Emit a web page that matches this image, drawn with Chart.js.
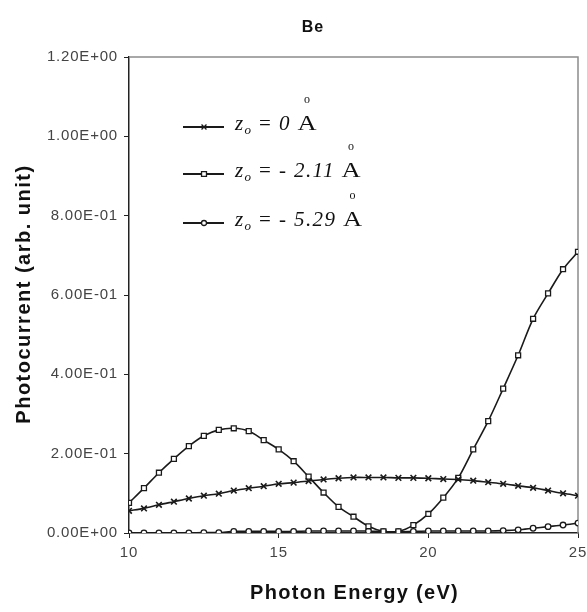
<!DOCTYPE html>
<html>
<head>
<meta charset="utf-8">
<script src="https://cdn.jsdelivr.net/npm/chart.js@4.4.1/dist/chart.umd.min.js"></script>
<style>
  html, body { margin: 0; padding: 0; background: #fff; }
  #wrap { width: 587px; height: 612px; }
</style>
</head>
<body>
<div id="wrap"><canvas id="grafica"></canvas></div>
<script>
// photon energy (eV)
const energia = [10, 10.5, 11, 11.5, 12, 12.5, 13, 13.5, 14, 14.5, 15, 15.5, 16, 16.5, 17, 17.5,
                 18, 18.5, 19, 19.5, 20, 20.5, 21, 21.5, 22, 22.5, 23, 23.5, 24, 24.5, 25]
// z0 = 0 A (crosses)
const z0 = [0.056, 0.062, 0.071, 0.079, 0.087, 0.094, 0.099, 0.107, 0.113, 0.118, 0.124, 0.127, 0.131, 0.135, 0.138, 0.140,
            0.140, 0.140, 0.139, 0.139, 0.138, 0.136, 0.135, 0.132, 0.128, 0.124, 0.119, 0.114, 0.107, 0.100, 0.094]
// z0 = -2.11 A (squares)
const z211 = [0.076, 0.113, 0.152, 0.187, 0.219, 0.245, 0.260, 0.264, 0.257, 0.234, 0.211, 0.181, 0.142, 0.102, 0.066, 0.041,
              0.017, 0.004, 0.004, 0.020, 0.048, 0.089, 0.139, 0.211, 0.282, 0.364, 0.448, 0.540, 0.604, 0.665, 0.709]
// z0 = -5.29 A (circles)
const z529 = [0.000, 0.000, 0.000, 0.000, 0.000, 0.001, 0.001, 0.004, 0.004, 0.004, 0.004, 0.004, 0.005, 0.005, 0.005, 0.005,
              0.005, 0.003, 0.003, 0.004, 0.005, 0.005, 0.005, 0.005, 0.005, 0.006, 0.008, 0.012, 0.016, 0.020, 0.025]

const leyenda = ['0', '- 2.11', '- 5.29']
const marcas = ['crossRot', 'rect', 'circle']

function pares(ys) {
    return energia.map((x, i) => ({ x: x, y: ys[i] }))
}

function expo(v) {
    if (Math.abs(v) < 1e-9) return '0.00E+00'
    const partes = v.toExponential(2).split('e')
    let e = Number(partes[1])
    const signo = e < 0 ? '-' : '+'
    e = Math.abs(e)
    return partes[0] + 'E' + signo + (e < 10 ? '0' + e : e)
}

// the picture is a bit wide, so the text gets some letter spacing
const espaciado = {
    id: 'espaciado',
    beforeDraw(chart) { chart.ctx.letterSpacing = '0.8px' },
    afterDraw(chart) { chart.ctx.letterSpacing = '0px' }
}

// gray frame on top/right, title and axis titles
const marco = {
    id: 'marco',
    beforeDatasetsDraw(chart) {
        const { ctx, chartArea: a } = chart
        ctx.save()
        ctx.strokeStyle = '#8c8c8c'
        ctx.lineWidth = 1.5
        ctx.beginPath()
        ctx.moveTo(a.left, a.top)
        ctx.lineTo(a.right, a.top)
        ctx.lineTo(a.right, a.bottom)
        ctx.stroke()

        ctx.fillStyle = '#111'
        ctx.textAlign = 'center'
        ctx.textBaseline = 'alphabetic'
        ctx.letterSpacing = '1px'
        ctx.font = 'bold 16px "Liberation Sans", Arial'
        ctx.fillText('Be', 313, 32)

        ctx.letterSpacing = '1.3px'
        ctx.font = 'bold 20px "Liberation Sans", Arial'
        ctx.fillText('Photon Energy (eV)', (a.left + a.right) / 2 + 1, 599)

        ctx.letterSpacing = '1.5px'
        ctx.save()
        ctx.translate(30, (a.top + a.bottom) / 2)
        ctx.rotate(-Math.PI / 2)
        ctx.fillText('Photocurrent (arb. unit)', 1, 0)
        ctx.restore()
        ctx.restore()
    }
}

// legend with italic z_o = ... and the angstrom sign
const cuadro = {
    id: 'cuadro',
    afterDatasetsDraw(chart) {
        const { ctx } = chart
        const bases = [130, 177, 226]
        ctx.save()
        ctx.letterSpacing = '0px'
        for (let i = 0; i < 3; i++) {
            const yb = bases[i]
            const yl = yb - 3
            ctx.strokeStyle = '#1a1a1a'
            ctx.lineWidth = 2
            ctx.beginPath()
            ctx.moveTo(183, yl)
            ctx.lineTo(224, yl)
            ctx.stroke()
            ctx.fillStyle = i === 0 ? '#1a1a1a' : '#fff'
            ctx.lineWidth = 1.3
            Chart.helpers.drawPoint(ctx, { pointStyle: marcas[i], radius: i === 2 ? 2.5 : 3.5, rotation: 0, borderWidth: 1.3 }, 204, yl)

            ctx.fillStyle = '#111'
            ctx.textBaseline = 'alphabetic'
            ctx.textAlign = 'left'
            ctx.letterSpacing = '1.4px'
            let x = 235
            ctx.font = 'italic 21px "Liberation Serif"'
            ctx.fillText('z', x, yb)
            x += ctx.measureText('z').width
            ctx.font = 'italic 13px "Liberation Serif"'
            ctx.fillText('o', x, yb + 4)
            x += ctx.measureText('o').width
            ctx.font = '21px "Liberation Serif"'
            ctx.fillText(' = ', x, yb)
            x += ctx.measureText(' = ').width
            ctx.font = 'italic 21px "Liberation Serif"'
            ctx.fillText(leyenda[i] + ' ', x, yb)
            x += ctx.measureText(leyenda[i] + ' ').width
            ctx.letterSpacing = '0px'
            ctx.font = '22px "Liberation Serif"'
            const wA = ctx.measureText('A').width
            ctx.save()
            ctx.translate(x, yb)
            ctx.scale(1.2, 1)
            ctx.fillText('A', 0, 0)
            ctx.restore()
            ctx.font = '12px "Liberation Serif"'
            ctx.textAlign = 'center'
            ctx.fillText('o', x + wA * 0.6, yb - 27)
        }
        ctx.restore()
    }
}

const ctx = document.getElementById('grafica')

new Chart(ctx, {
    type: 'line',
    data: {
        datasets: [
            {
                label: 'z0 = 0 A',
                data: pares(z0),
                borderColor: '#1a1a1a',
                backgroundColor: '#1a1a1a',
                borderWidth: 1.6,
                pointStyle: 'crossRot',
                pointRadius: 4,
                pointBorderWidth: 1.6,
                tension: 0.3
            },
            {
                label: 'z0 = -2.11 A',
                data: pares(z211),
                borderColor: '#1a1a1a',
                backgroundColor: '#ffffff',
                borderWidth: 1.6,
                pointStyle: 'rect',
                pointRadius: 3.5,
                pointBorderWidth: 1.3,
                tension: 0.3
            },
            {
                label: 'z0 = -5.29 A',
                data: pares(z529),
                borderColor: '#1a1a1a',
                backgroundColor: '#ffffff',
                borderWidth: 1.6,
                pointStyle: 'circle',
                pointRadius: 2.8,
                pointBorderWidth: 1.3,
                tension: 0.3
            }
        ]
    },
    options: {
        responsive: true,
        maintainAspectRatio: false,
        animation: false,
        layout: { padding: { top: 57, right: 9, left: 0, bottom: 0 } },
        plugins: {
            legend: { display: false },
            title: { display: false },
            tooltip: { enabled: false }
        },
        scales: {
            x: {
                type: 'linear',
                min: 10,
                max: 25,
                ticks: { stepSize: 5, color: '#444', font: { family: 'Liberation Sans', size: 15 }, padding: 6 },
                grid: { display: true, drawOnChartArea: false, tickLength: 5, color: '#222' },
                border: { color: '#222', width: 1.5 },
                afterFit: s => { s.height = 79; s.paddingLeft = 0; s.paddingRight = 0 }
            },
            y: {
                min: 0,
                max: 1.2,
                ticks: { stepSize: 0.2, color: '#444', font: { family: 'Liberation Sans', size: 15 }, padding: 6, callback: v => expo(v) },
                grid: { display: true, drawOnChartArea: false, tickLength: 5, color: '#222' },
                border: { color: '#222', width: 1.5 },
                afterFit: s => { s.width = 129; s.paddingTop = 0; s.paddingBottom = 0 }
            }
        }
    },
    plugins: [espaciado, marco, cuadro]
})
</script>
</body>
</html>
